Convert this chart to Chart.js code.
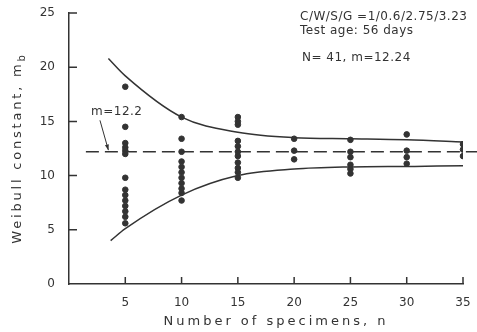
<!DOCTYPE html>
<html>
<head>
<meta charset="utf-8">
<script src="https://cdn.jsdelivr.net/npm/chart.js@4.4.0/dist/chart.umd.min.js"></script>
<style>
  html, body { margin: 0; padding: 0; background: #fff; }
</style>
</head>
<body>
<canvas id="weibull" width="477" height="332"></canvas>
<script>
// specimen counts and the Weibull constants measured at each one
const specimenCounts = [5, 10, 15, 20, 25, 30, 35];
const mAt5 = [18.2, 14.5, 13.0, 12.6, 12.3, 12.0, 9.8, 8.7, 8.2, 7.7, 7.2, 6.7, 6.2, 5.6];
const mAt10 = [15.4, 13.4, 12.2, 11.3, 10.8, 10.3, 9.8, 9.3, 8.8, 8.4, 7.7];
const mAt15 = [15.4, 15.0, 14.7, 13.2, 12.7, 12.2, 11.8, 11.2, 10.7, 10.3, 9.8];
const mAt20 = [13.4, 12.3, 11.5];
const mAt25 = [13.3, 12.2, 11.7, 11.0, 10.6, 10.2];
const mAt30 = [13.8, 12.3, 11.7, 11.1];
const mAt35 = [12.9, 12.4, 11.8];
const mGroups = [mAt5, mAt10, mAt15, mAt20, mAt25, mAt30, mAt35];

// bounding curves
const upperN = [3.5, 5, 10, 15, 20, 25, 30, 35, 36.2];
const upperM = [20.8, 19.2, 15.4, 14.0, 13.5, 13.4, 13.3, 13.1, 13.05];
const lowerN = [3.7, 5, 10, 15, 20, 25, 30, 35, 36.2];
const lowerM = [4.0, 5.1, 8.2, 10.0, 10.6, 10.8, 10.85, 10.9, 10.9];

// mean line
const meanM = 12.2;
const meanN = [1.5, 36.3];

const xTicks = [5, 10, 15, 20, 25, 30, 35];
const yTicks = [0, 5, 10, 15, 20, 25];

const ink = '#333';
const font = 'DejaVu Sans';

const points = [];
specimenCounts.forEach((n, i) => {
    mGroups[i].forEach(m => points.push({ x: n, y: m }));
});

const decor = {
    id: 'decor',
    afterDraw(chart) {
        const ctx = chart.ctx;
        const xs = chart.scales.x;
        const ys = chart.scales.y;
        const area = chart.chartArea;
        ctx.save();
        ctx.strokeStyle = ink;
        ctx.lineWidth = 1.5;
        // inward ticks
        ctx.beginPath();
        yTicks.forEach(v => {
            if (v === 0) return;
            const py = ys.getPixelForValue(v);
            ctx.moveTo(area.left, py);
            ctx.lineTo(area.left + 8, py);
        });
        xTicks.forEach(v => {
            const px = xs.getPixelForValue(v);
            ctx.moveTo(px, area.bottom);
            ctx.lineTo(px, area.bottom - 7);
        });
        ctx.stroke();

        ctx.fillStyle = ink;
        ctx.textBaseline = 'middle';
        ctx.letterSpacing = '3px';

        // x title
        ctx.font = '13px ' + font;
        ctx.textAlign = 'left';
        const xt = 'Number of specimens, n';
        const xw = ctx.measureText(xt).width;
        ctx.fillText(xt, 276 - xw / 2, 322);

        // y title with subscript
        ctx.save();
        ctx.translate(18, 148);
        ctx.rotate(-Math.PI / 2);
        ctx.letterSpacing = '2.8px';
        const main = 'Weibull constant, m';
        const w = ctx.measureText(main).width;
        ctx.font = '10px ' + font;
        const wb = ctx.measureText('b').width;
        const start = -(w + wb) / 2;
        ctx.font = '13px ' + font;
        ctx.fillText(main, start, 0);
        ctx.font = '10px ' + font;
        ctx.fillText('b', start + w, 4);
        ctx.restore();

        // annotations
        ctx.letterSpacing = '0.5px';
        ctx.textAlign = 'left';
        ctx.font = '12px ' + font;
        ctx.fillText('C/W/S/G =1/0.6/2.75/3.23', 300, 17);
        ctx.fillText('Test age: 56 days', 300, 31);
        ctx.fillText('N= 41, m=12.24', 302, 58);
        ctx.fillText('m=12.2', 91, 112);

        // arrow to the mean line
        const x0 = xs.getPixelForValue(2.75), y0 = ys.getPixelForValue(15.1);
        const x1 = xs.getPixelForValue(3.5), y1 = ys.getPixelForValue(12.35);
        ctx.lineWidth = 1;
        ctx.beginPath();
        ctx.moveTo(x0, y0);
        ctx.lineTo(x1, y1);
        ctx.stroke();
        const ang = Math.atan2(y1 - y0, x1 - x0);
        ctx.beginPath();
        ctx.moveTo(x1, y1);
        ctx.lineTo(x1 - 6 * Math.cos(ang - 0.35), y1 - 6 * Math.sin(ang - 0.35));
        ctx.lineTo(x1 - 6 * Math.cos(ang + 0.35), y1 - 6 * Math.sin(ang + 0.35));
        ctx.closePath();
        ctx.fill();
        ctx.restore();
    }
};

new Chart(document.getElementById('weibull').getContext('2d'), {
    type: 'scatter',
    data: {
        datasets: [
            {
                label: 'Measured',
                data: points,
                backgroundColor: ink,
                borderColor: ink,
                pointRadius: 2.8,
                pointHoverRadius: 2.8
            },
            {
                label: 'Upper bound',
                type: 'line',
                data: upperN.map((n, i) => ({ x: n, y: upperM[i] })),
                borderColor: ink,
                borderWidth: 1.5,
                pointRadius: 0,
                cubicInterpolationMode: 'monotone',
                fill: false,
                clip: false
            },
            {
                label: 'Lower bound',
                type: 'line',
                data: lowerN.map((n, i) => ({ x: n, y: lowerM[i] })),
                borderColor: ink,
                borderWidth: 1.5,
                pointRadius: 0,
                cubicInterpolationMode: 'monotone',
                fill: false,
                clip: false
            },
            {
                label: 'Mean',
                type: 'line',
                data: meanN.map(n => ({ x: n, y: meanM })),
                borderColor: ink,
                borderWidth: 1.5,
                borderDash: [13, 6],
                pointRadius: 0,
                fill: false,
                clip: false
            }
        ]
    },
    options: {
        responsive: false,
        animation: false,
        layout: { padding: { top: 13, right: 14, left: 0, bottom: 0 } },
        plugins: {
            legend: { display: false },
            tooltip: { enabled: false }
        },
        scales: {
            x: {
                type: 'linear',
                min: 0,
                max: 35,
                afterBuildTicks: s => { s.ticks = xTicks.map(v => ({ value: v })); },
                afterFit: s => {
                    s.height = 48;
                    s.paddingLeft = 0;
                    s.paddingRight = 0;
                },
                grid: { display: false, drawTicks: false },
                border: { display: true, color: ink, width: 1.5 },
                ticks: {
                    color: ink,
                    font: { family: font, size: 12 },
                    padding: 12
                }
            },
            y: {
                min: 0,
                max: 25,
                afterBuildTicks: s => { s.ticks = yTicks.map(v => ({ value: v })); },
                afterFit: s => {
                    s.width = 69;
                    s.paddingTop = 0;
                    s.paddingBottom = 0;
                },
                grid: { display: false, drawTicks: false },
                border: { display: true, color: ink, width: 1.5 },
                ticks: {
                    color: ink,
                    font: { family: font, size: 12 },
                    padding: 14
                }
            }
        }
    },
    plugins: [decor]
});
</script>
</body>
</html>
